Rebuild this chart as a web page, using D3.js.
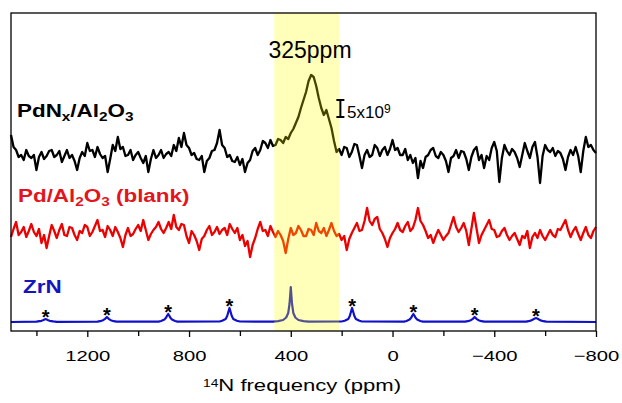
<!DOCTYPE html>
<head>
<meta charset="utf-8">
<title>14N NMR spectra</title>
<script type="text/javascript" src="https://cdn.jsdelivr.net/npm/d3@7/dist/d3.min.js"></script>
<style>
body { margin: 0; background: #fff; }
svg { font-family: Arial, "Liberation Sans", sans-serif; }
.axis path, .axis line { fill: none; stroke: #000; stroke-width: 1.3; }
.axis text { font-size: 15px; fill: #000; }
</style>
</head>
<body>
<script>
// sampling grid of the two noisy traces (ppm), one reading every 10 ppm
var ppmGrid = d3.range(1500, -801, -10);

// PdNx/Al2O3 trace, intensity above its own baseline (a.u.)
var pdnValues = [
  18, 6, 3, -4, -2, -7, 3, -3, -5, -2, -17, -4, 1, -6, -3, 2, 3, -4, -2, 2,
  -9, -3, 3, -5, -2, -8, -17, -5, 1, -3, 10, 2, 3, -4, 6, -1, -5, -3, -19, -6,
  8, 2, 16, 4, 6, -3, -2, 3, -7, -2, 1, -5, -10, -3, -19, -6, 3, -5, -2, 3,
  -5, -1, 1, -3, 8, 2, 15, 6, 20, 8, 5, -2, 0, -6, -7, -3, -19, -8, -5, 2,
  3, 10, 23, 8, 5, -4, -2, -8, -9, -4, -12, -6, -19, -10, -7, 2, 5, -2, 3, 12,
  10, 5, 13, 7, 8, 14, 13, 10, 16, 14, 20, 24, 30, 36, 45, 53, 61, 72, 78, 76,
  67, 55, 45, 38, 43, 34, 25, 12, 1, 4, -2, 6, 5, -4, 1, 9, 8, -3, -15, -2,
  3, -4, -2, 8, 5, -3, 3, 6, -2, 4, 13, 3, 5, -2, -2, 4, -7, -2, -10, -5,
  -25, -8, -15, -4, -2, 3, 5, -3, -5, 1, -2, -8, -19, -5, -3, 3, -5, 2, 1, -6,
  -17, -4, 3, 6, -7, -2, -15, -3, -7, 5, 11, 2, -29, -5, 8, 2, -2, 4, 1, -5,
  -14, -2, 10, 2, -5, 6, 11, -4, -30, -3, 8, 3, 1, 5, -3, 2, 0, -6, -17, -4,
  3, -2, 6, -3, -19, 2, 16, 6, 8, 3, 0
];

// Pd/Al2O3 (blank) trace
var blankValues = [
  -4, 4, 11, -2, 1, 6, -4, 2, 9, 1, -3, 4, -10, -2, -15, -3, 8, 2, -5, 3,
  9, -2, -3, 6, 5, -2, -7, 2, 0, 8, 6, -3, 1, 7, 13, 2, 3, -4, 7, 3,
  -3, 6, 1, -5, -14, -2, 5, -3, -1, 4, 8, 2, 13, 3, -7, -1, 3, 6, 11, 4,
  0, 5, 11, 4, 18, 6, 3, 9, 8, -3, -10, 2, -2, -8, -17, -6, -3, 3, 7, -2,
  1, 6, -1, 3, 5, -2, 9, 4, 0, 5, -7, -2, -13, -8, -24, -12, -5, 4, 11, 2,
  3, -3, 7, 1, -4, 2, -2, -8, -20, -6, 5, -2, 0, 7, 3, -3, -3, 4, 3, -2,
  10, 2, 0, 5, -3, 3, 10, 2, -3, -1, -7, -3, -17, -6, 0, 5, 10, 2, 3, 12,
  25, 12, 8, 14, 16, 4, 0, -6, -14, -5, 0, 4, 10, 3, 1, 7, 11, 2, 5, 13,
  25, 12, 8, 2, -5, -2, -10, -3, 3, -2, -7, -3, 0, 8, 16, 6, 1, 5, 10, 2,
  -12, 4, 20, 5, -10, -2, 3, 8, 13, 4, 3, -4, -3, 2, 5, -2, -7, -3, 0, -6,
  -12, -3, -5, 2, -15, -4, 0, -5, 3, -3, -7, -2, 3, -2, -4, 4, 3, 8, 13, 3,
  -4, 2, 6, -1, -7, 0, 6, -2, -5, 2, 6
];

// ZrN reference, [ppm, intensity]
var zrnPoints = [
  [1500, 0], [1400, 0.3], [1394, 0.6], [1380, 1.2], [1372, 2], [1368, 2.6], [1364, 3], [1360, 2.6], [1356, 2], [1348, 1.2], [1334, 0.6], [1320, 0.2],
  [1160, 0.3], [1150, 0.8], [1138, 1.8], [1130, 3.2], [1126, 4.3], [1123, 5], [1120, 4.3], [1116, 3.2], [1108, 1.8], [1096, 0.8], [1085, 0.3],
  [920, 0.4], [910, 1], [897, 2.4], [890, 4.5], [886, 6.5], [882, 8], [878, 6.5], [874, 4.5], [867, 2.4], [855, 1], [845, 0.4],
  [680, 0.5], [670, 1.2], [656, 3], [650, 6], [645, 10.5], [641, 14], [637, 10.5], [632, 6], [626, 3], [612, 1.2], [600, 0.5],
  [470, 0.4], [450, 0.9], [430, 2], [418, 4.5], [410, 9], [405, 18], [402, 28], [400, 35], [398, 28], [395, 18], [390, 9], [382, 4.5], [370, 2], [350, 0.9], [330, 0.4],
  [200, 0.5], [188, 1.2], [174, 3], [168, 6], [163, 10.5], [159, 14], [155, 10.5], [150, 6], [144, 3], [130, 1.2], [120, 0.5],
  [-45, 0.4], [-55, 1], [-67, 2.4], [-74, 4.5], [-78, 6.5], [-82, 8], [-86, 6.5], [-90, 4.5], [-97, 2.4], [-109, 1], [-120, 0.4],
  [-285, 0.3], [-296, 0.8], [-308, 1.8], [-316, 3.2], [-320, 4.3], [-323, 5], [-326, 4.3], [-330, 3.2], [-338, 1.8], [-350, 0.8], [-361, 0.3],
  [-525, 0.3], [-535, 0.8], [-546, 1.6], [-554, 2.8], [-560, 3.6], [-564, 4], [-568, 3.6], [-574, 2.8], [-582, 1.6], [-593, 0.8], [-605, 0.3],
  [-800, 0]
];

// spinning sidebands marked with *
var sidebandPpm = [1364, 1123, 882, 641, 159, -82, -323, -564];
var sidebandHeight = [3, 5, 8, 14, 14, 8, 5, 4];

var majorTicks = [1200, 800, 400, 0, -400, -800];
var minorTicks = [1400, 1000, 600, 200, -200, -600];
var band = [465, 210];
var offsets = { pdn: 178, blank: 98, zrn: 9 };
var scaleBar = 17; // 5x10^9

var width = 622, height = 403;
var plotLeft = 11, plotRight = 596, plotTop = 13, plotBottom = 331;

var svg = d3.select('body').append('svg')
  .attr('width', width)
  .attr('height', height);

var x = d3.scaleLinear().domain([1500, -800]).range([plotLeft, plotRight]);
var y = d3.scaleLinear().domain([0, plotBottom - plotTop]).range([plotBottom, plotTop]);

function traceLine(offset) {
  return d3.line()
    .x(function(d) { return x(d[0]); })
    .y(function(d) { return y(d[1] + offset); });
}

var pdnData = ppmGrid.map(function(p, i) { return [p, pdnValues[i]]; });
var blankData = ppmGrid.map(function(p, i) { return [p, blankValues[i]]; });

svg.append('path').datum(pdnData)
  .attr('d', traceLine(offsets.pdn))
  .attr('fill', 'none').attr('stroke', '#000').attr('stroke-width', 2.3).attr('stroke-linejoin', 'round');

svg.append('path').datum(blankData)
  .attr('d', traceLine(offsets.blank))
  .attr('fill', 'none').attr('stroke', '#ec0000').attr('stroke-width', 2.3).attr('stroke-linejoin', 'round');

svg.append('path').datum(zrnPoints)
  .attr('d', traceLine(offsets.zrn))
  .attr('fill', 'none').attr('stroke', '#1010c8').attr('stroke-width', 2.2).attr('stroke-linejoin', 'round');

// stars over sidebands
svg.selectAll('.star').data(sidebandPpm).enter().append('text')
  .attr('class', 'star')
  .attr('x', function(d) { return x(d); })
  .attr('y', function(d, i) { return y(sidebandHeight[i] + offsets.zrn) + 5; })
  .attr('text-anchor', 'middle')
  .style('font-size', '20px')
  .style('font-weight', 'bold')
  .text('*');

// highlighted region
svg.append('rect')
  .attr('x', x(band[0]))
  .attr('y', plotTop)
  .attr('width', x(band[1]) - x(band[0]))
  .attr('height', plotBottom - plotTop)
  .attr('fill', '#ffff00')
  .attr('opacity', 0.27);

// frame
svg.append('rect')
  .attr('x', plotLeft).attr('y', plotTop)
  .attr('width', plotRight - plotLeft).attr('height', plotBottom - plotTop)
  .attr('fill', 'none').attr('stroke', '#000').attr('stroke-width', 1.3);

var xAxis = svg.append('g').attr('class', 'axis')
  .attr('transform', 'translate(0,' + plotBottom + ')')
  .call(d3.axisBottom(x).tickValues(majorTicks).tickSize(6).tickSizeOuter(0).tickFormat(d3.format('d')));
xAxis.select('.domain').remove();
xAxis.selectAll('text')
  .attr('y', 30).attr('dy', 0)
  .attr('transform', 'scale(1.35,1)');

var minor = svg.append('g').attr('class', 'axis')
  .attr('transform', 'translate(0,' + plotBottom + ')')
  .call(d3.axisBottom(x).tickValues(minorTicks).tickSize(5).tickFormat(''));
minor.select('.domain').remove();

// axis title
var title = svg.append('text')
  .attr('transform', 'translate(302,391) scale(1.38,1)')
  .attr('text-anchor', 'middle')
  .style('font-size', '16px');
title.append('tspan').attr('baseline-shift', '40%').style('font-size', '10px').text('14');
title.append('tspan').text('N frequency (ppm)');

// sample labels
function label(tx, ty, color, parts) {
  var t = svg.append('text')
    .attr('transform', 'translate(' + tx + ',' + ty + ') scale(1.18,1)')
    .attr('fill', color)
    .style('font-size', '19px')
    .style('font-weight', 'bold');
  parts.forEach(function(p) {
    var s = t.append('tspan').text(p[0]);
    if (p[1]) s.attr('baseline-shift', '-25%').style('font-size', '13px');
  });
}
label(17, 117, '#000', [['PdN'], ['x', 1], ['/Al'], ['2', 1], ['O'], ['3', 1]]);
label(18, 202, '#e3141c', [['Pd/Al'], ['2', 1], ['O'], ['3', 1], [' (blank)']]);
label(23, 293, '#1515c0', [['ZrN']]);

// peak annotation
svg.append('text')
  .attr('x', 310).attr('y', 58)
  .attr('text-anchor', 'middle')
  .style('font-size', '23px')
  .text('325ppm');

// intensity scale bar
var barX = x(205), barY0 = y(offsets.pdn + 36), barY1 = y(offsets.pdn + 36 + scaleBar);
svg.append('path')
  .attr('d', 'M' + (barX - 4) + ',' + barY1 + 'H' + (barX + 4) +
             'M' + barX + ',' + barY1 + 'V' + barY0 +
             'M' + (barX - 4) + ',' + barY0 + 'H' + (barX + 4))
  .attr('stroke', '#000').attr('stroke-width', 2).attr('fill', 'none');
var sb = svg.append('text')
  .attr('x', 347).attr('y', 118)
  .style('font-size', '17px');
sb.append('tspan').text('5x10');
sb.append('tspan').attr('baseline-shift', '45%').style('font-size', '12px').text('9');
</script>
</body>
